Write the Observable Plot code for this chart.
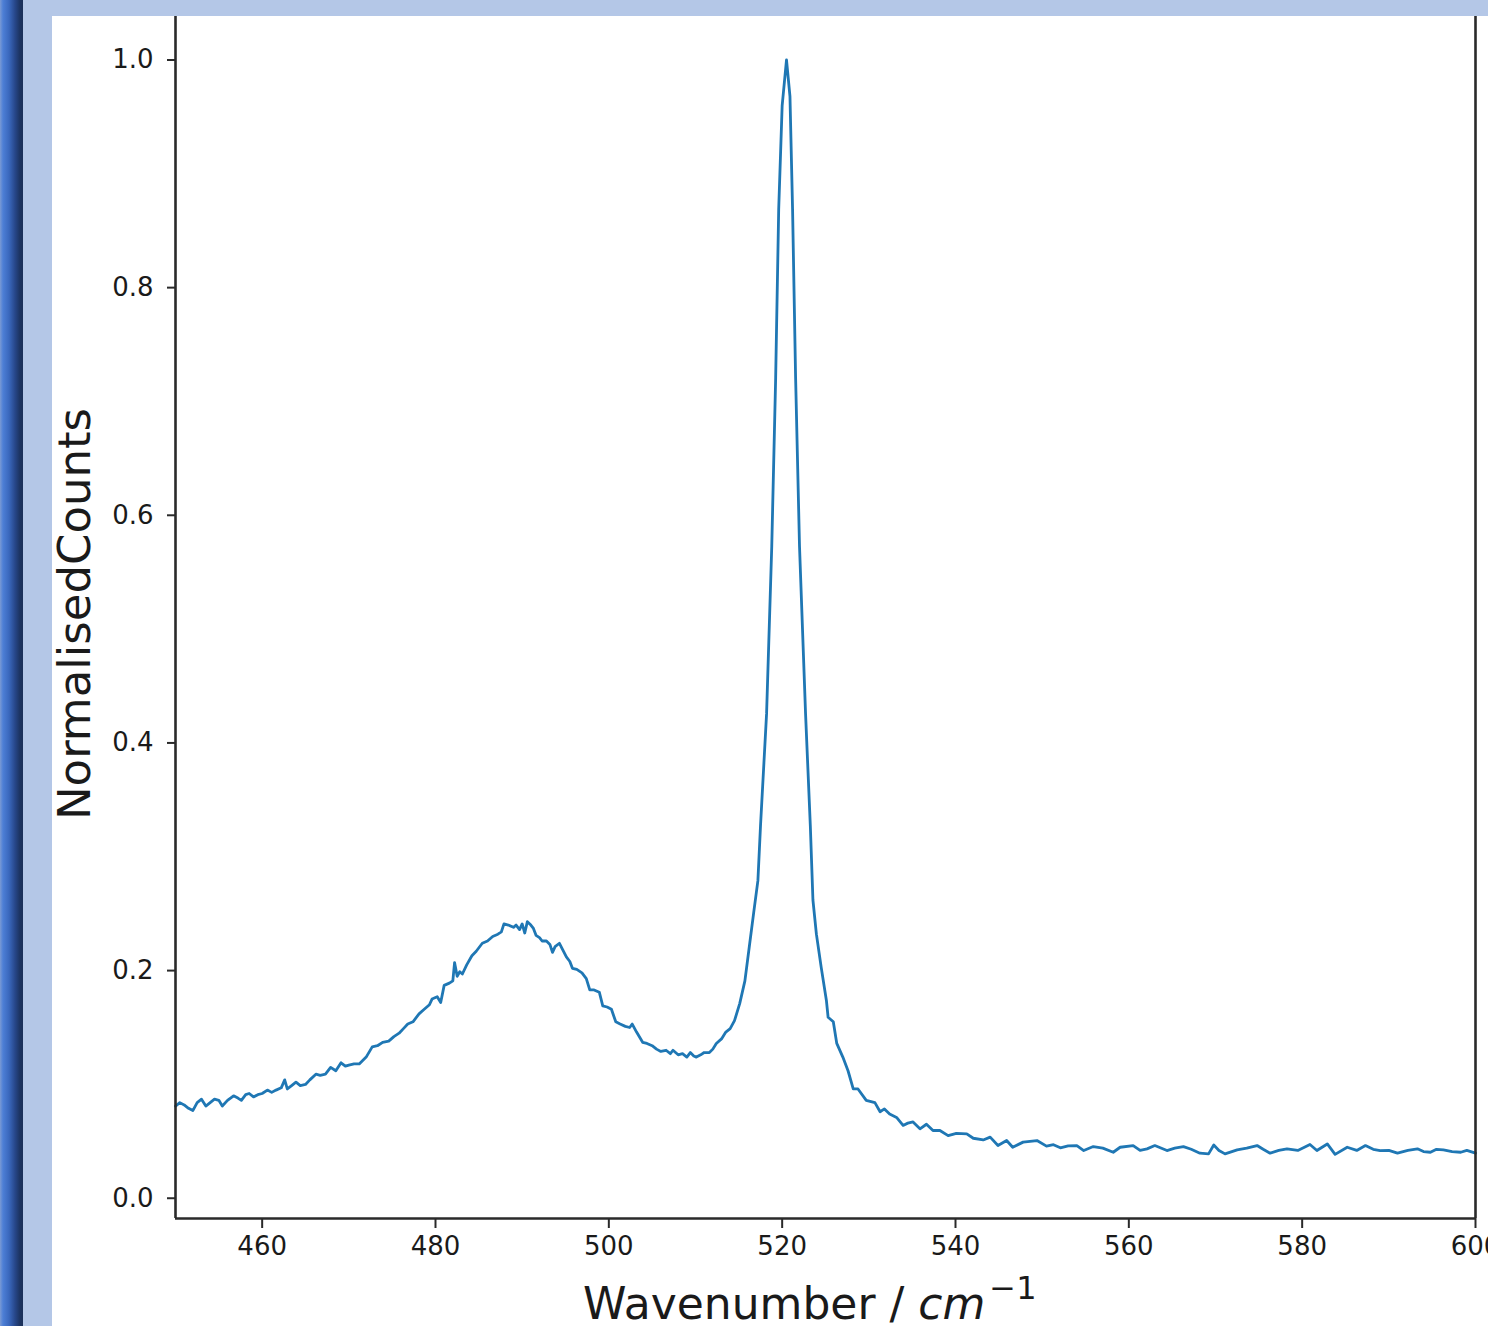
<!DOCTYPE html>
<html>
<head>
<meta charset="utf-8">
<script src="https://cdn.jsdelivr.net/npm/d3@7"></script>
<script src="https://cdn.jsdelivr.net/npm/@observablehq/plot@0.6"></script>
<style>
  html, body { margin: 0; padding: 0; background: #ffffff; }
  body { width: 1488px; height: 1326px; position: relative; overflow: hidden; font-family: "DejaVu Sans", sans-serif; }
  #darkbar { position: absolute; left: 0; top: 0; width: 23px; height: 1326px;
    background: linear-gradient(to right, #7a9ad4 0px, #4d7fd6 3px, #3a68bd 9px, #27478a 15px, #1c3360 20px, #1b3058 23px); }
  #lightside { position: absolute; left: 23px; top: 0; width: 29px; height: 1326px; background: #b4c7e7; }
  #lighttop { position: absolute; left: 23px; top: 0; width: 1465px; height: 16px; background: #b4c7e7; }
  #chart { position: absolute; left: 52px; top: 16px; width: 1436px; height: 1310px; overflow: hidden; }
  #chart svg { display: block; overflow: hidden; }
</style>
</head>
<body>
<div id="darkbar"></div>
<div id="lightside"></div>
<div id="lighttop"></div>
<div id="chart"></div>
<script>
// ---- data ----
const wavenumber = [
  450.0, 450.5, 451.0, 451.5, 452.0, 452.5, 453.0, 453.5, 454.0, 454.5,
  455.0, 455.4, 456.0, 456.7, 457.2, 457.6, 458.1, 458.5, 459.0, 459.5,
  460.0, 460.6, 461.1, 461.6, 462.2, 462.6, 462.9, 463.4, 463.9, 464.4,
  465.0, 465.5, 466.2, 466.7, 467.3, 467.9, 468.5, 469.1, 469.6, 470.0,
  470.6, 471.2, 471.6, 472.0, 472.7, 473.3, 473.9, 474.6, 475.2, 475.8,
  476.3, 476.8, 477.4, 478.1, 478.7, 479.3, 479.6, 480.2, 480.6, 481.0,
  481.6, 482.0, 482.2, 482.5, 482.8, 483.1, 483.6, 484.2, 484.7, 485.4,
  486.0, 486.6, 487.2, 487.6, 487.9, 488.4, 489.0, 489.3, 489.7, 490.0,
  490.3, 490.6, 491.0, 491.3, 491.6, 492.0, 492.3, 492.8, 493.2, 493.5,
  493.8, 494.3, 494.7, 495.1, 495.5, 495.8, 496.3, 496.9, 497.4, 497.8,
  498.3, 498.9, 499.3, 499.8, 500.3, 500.8, 501.3, 501.9, 502.4, 502.7,
  503.2, 503.9, 504.4, 505.0, 505.5, 506.0, 506.6, 507.1, 507.4, 508.0,
  508.5, 509.0, 509.4, 509.8, 510.1, 510.6, 511.0, 511.6, 512.0, 512.4,
  513.0, 513.5, 514.0, 514.5, 515.1, 515.7, 516.2, 516.7, 517.2, 517.5,
  518.2, 518.8, 519.25, 519.6, 520.0, 520.5, 520.9, 521.2, 521.55, 522.0,
  522.7, 523.25, 523.55, 523.95, 524.5, 525.1, 525.3, 525.9, 526.3, 527.0,
  527.6, 528.2, 528.75, 529.7, 530.7, 531.3, 531.8, 532.4, 533.2, 533.95,
  534.5, 535.1, 535.9, 536.65, 537.4, 538.2, 539.15, 540.1, 541.3, 542.05,
  543.2, 544.0, 544.9, 545.9, 546.6, 547.8, 549.4, 550.5, 551.3, 552.1,
  553.0, 554.0, 554.8, 555.9, 557.0, 558.2, 559.0, 560.5, 561.3, 562.1,
  563.0, 564.4, 565.3, 566.3, 567.2, 568.2, 569.2, 569.8, 570.4, 571.1,
  572.5, 573.6, 574.8, 575.5, 576.3, 577.3, 578.25, 579.5, 580.9, 581.7,
  582.9, 583.8, 585.2, 586.3, 587.3, 588.2, 589.0, 590.0, 591.0, 592.2,
  593.3, 594.0, 594.8, 595.5, 596.3, 597.3, 598.3, 599.0, 600.0
];
const counts = [
  0.081, 0.084, 0.082, 0.079, 0.077, 0.084, 0.087, 0.081, 0.084, 0.087,
  0.086, 0.081, 0.086, 0.090, 0.088, 0.086, 0.091, 0.092, 0.089, 0.091,
  0.092, 0.095, 0.093, 0.095, 0.097, 0.104, 0.096, 0.099, 0.102, 0.099,
  0.100, 0.104, 0.109, 0.108, 0.109, 0.115, 0.112, 0.119, 0.116, 0.117,
  0.118, 0.118, 0.121, 0.124, 0.133, 0.134, 0.137, 0.138, 0.142, 0.145,
  0.149, 0.153, 0.155, 0.162, 0.166, 0.170, 0.175, 0.177, 0.172, 0.187,
  0.189, 0.191, 0.207, 0.195, 0.199, 0.197, 0.205, 0.213, 0.217, 0.224,
  0.226, 0.230, 0.232, 0.234, 0.241, 0.240, 0.238, 0.240, 0.236, 0.241,
  0.233, 0.243, 0.240, 0.237, 0.231, 0.229, 0.226, 0.226, 0.223, 0.216,
  0.221, 0.224, 0.218, 0.212, 0.208, 0.202, 0.201, 0.198, 0.193, 0.183,
  0.183, 0.181, 0.169, 0.168, 0.166, 0.155, 0.153, 0.151, 0.150, 0.153,
  0.146, 0.137, 0.136, 0.134, 0.131, 0.129, 0.130, 0.127, 0.130, 0.126,
  0.127, 0.124, 0.128, 0.125, 0.124, 0.126, 0.128, 0.128, 0.131, 0.136,
  0.140, 0.146, 0.149, 0.156, 0.171, 0.191, 0.2205, 0.250, 0.279, 0.327,
  0.4255, 0.573, 0.721, 0.869, 0.960, 1.000, 0.968, 0.869, 0.721, 0.573,
  0.4255, 0.327, 0.262, 0.232, 0.203, 0.174, 0.159, 0.155, 0.136, 0.124,
  0.112, 0.096, 0.096, 0.086, 0.084, 0.076, 0.0785, 0.074, 0.071, 0.064,
  0.066, 0.067, 0.061, 0.065, 0.0595, 0.0595, 0.055, 0.057, 0.0566, 0.0527,
  0.0512, 0.0537, 0.0463, 0.0507, 0.0448, 0.0493, 0.0507, 0.0458, 0.047, 0.0443,
  0.046, 0.0463, 0.0419, 0.0454, 0.044, 0.0404, 0.0448, 0.0463, 0.042, 0.0434,
  0.0463, 0.0419, 0.044, 0.0454, 0.043, 0.0396, 0.039, 0.0468, 0.042, 0.039,
  0.0425, 0.044, 0.0463, 0.043, 0.0396, 0.042, 0.0434, 0.042, 0.0472, 0.0419,
  0.0477, 0.0385, 0.0448, 0.042, 0.0463, 0.043, 0.0419, 0.042, 0.0396, 0.042,
  0.0434, 0.041, 0.0404, 0.043, 0.0425, 0.041, 0.0404, 0.042, 0.0396
];
const xTicks = [460, 480, 500, 520, 540, 560, 580, 600];
const yTicks = [0.0, 0.2, 0.4, 0.6, 0.8, 1.0];
const xDomain = [450, 600];
const yDomain = [-0.0178, 1.0382];
const xLabel = "Wavenumber / ";
const xLabelItalic = "cm";
const xLabelSup = "−1";
const yLabel = "NormalisedCounts";

const spectrum = wavenumber.map((w, i) => ({w, c: counts[i]}));

const ink = "#1a1a1a";
const spine = "#2a2a2a";

const chart = Plot.plot({
  width: 1436,
  height: 1310,
  marginLeft: 123,
  marginRight: 13,
  marginTop: 0,
  marginBottom: 108,
  x: {domain: xDomain},
  y: {domain: yDomain},
  style: {fontFamily: "DejaVu Sans", fontSize: "26px", color: ink, background: "#ffffff", overflow: "hidden"},
  marks: [
    Plot.line(spectrum, {x: "w", y: "c", stroke: "#1f77b4", strokeWidth: 2.8}),
    Plot.axisX({ticks: xTicks, tickSize: 10, tickPadding: 8, tickFormat: d => String(d), label: null, stroke: spine, strokeWidth: 2, fill: ink}),
    Plot.axisY({ticks: yTicks, tickSize: 8, tickPadding: 14, tickFormat: d3.format(".1f"), label: null, stroke: spine, strokeWidth: 2, fill: ink}),
    Plot.ruleX(xDomain, {stroke: spine, strokeWidth: 2.6}),
    Plot.ruleY([yDomain[0]], {stroke: spine, strokeWidth: 2.6})
  ]
});

document.getElementById("chart").appendChild(chart);

const svg = d3.select(chart);
const xl = svg.append("text")
  .attr("x", 531).attr("y", 1303)
  .attr("text-anchor", "start")
  .attr("fill", ink)
  .style("font-family", "DejaVu Sans")
  .style("font-size", "44px");
xl.append("tspan").text(xLabel);
xl.append("tspan").attr("font-style", "italic").text(xLabelItalic);
xl.append("tspan").attr("font-size", "32px").attr("dx", 4).attr("dy", -20).text(xLabelSup);

svg.append("text")
  .attr("transform", "translate(38,598) rotate(-90)")
  .attr("text-anchor", "middle")
  .attr("fill", ink)
  .style("font-family", "DejaVu Sans")
  .style("font-size", "45px")
  .text(yLabel);
</script>
</body>
</html>
